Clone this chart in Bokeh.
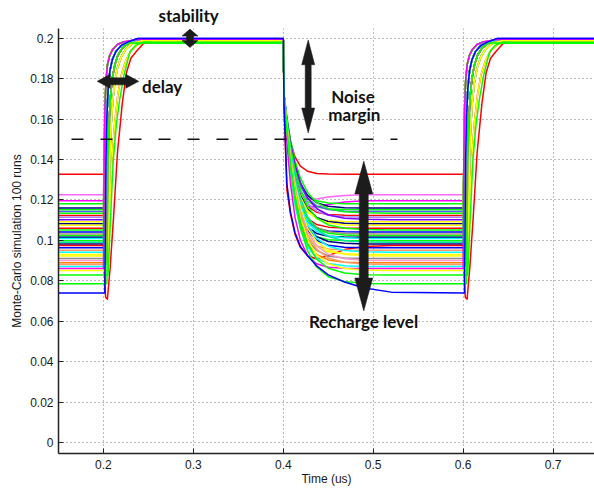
from bokeh.plotting import figure
from bokeh.models import Label, Arrow, FixedTicker, NumeralTickFormatter, Range1d, Title
from bokeh.embed import file_html
from bokeh.resources import INLINE

# ---------------- data ----------------
# recharge (low) level of each Monte-Carlo run, its high plateau, colour, rise class
levels = [0.1327, 0.1226, 0.1196, 0.1181, 0.1160, 0.1152, 0.1143, 0.1135, 0.1124, 0.1115,
          0.1103, 0.1093, 0.1083, 0.1075, 0.1061, 0.1052, 0.1042, 0.1032, 0.1024, 0.1016,
          0.1010, 0.0999, 0.0991, 0.0983, 0.0975, 0.0964, 0.0952, 0.0942, 0.0931, 0.0923,
          0.0911, 0.0901, 0.0890, 0.0882, 0.0872, 0.0862, 0.0852, 0.0829, 0.0786, 0.0741]
tops = [0.1985, 0.1988, 0.1982, 0.1980, 0.1990, 0.1978, 0.1992, 0.1977, 0.1986, 0.1989,
        0.1991, 0.1987, 0.1993, 0.1984, 0.1983, 0.1976, 0.1996, 0.1986, 0.1979, 0.1992,
        0.1988, 0.1981, 0.1985, 0.1994, 0.1982, 0.1998, 0.1987, 0.1989, 0.1984, 0.1986,
        0.1988, 0.1990, 0.1985, 0.1987, 0.1989, 0.1991, 0.1986, 0.1979, 0.1976, 0.1997]
run_colors = ["#ff0000", "#ff66ff", "#ff00ff", "#00ff00", "#000080", "#00ff00", "#5a5aff", "#00ff00", "#ff0000", "#b380ff",
              "#8000ff", "#ffff00", "#000080", "#ffff00", "#ff0000", "#00ff00", "#0000ff", "#99996b", "#00ff00", "#000080",
              "#00ffff", "#00ff00", "#00e699", "#000080", "#ff0000", "#0000ff", "#ff9966", "#00ffff", "#ffff00", "#ffff00",
              "#8c8c8c", "#ff99cc", "#ff8000", "#ff9966", "#00ffff", "#ff00ff", "#ffff00", "#00ff00", "#00ff00", "#0000ff"]
rise_class = ["B", "A", "B", "A", "B", "C", "B", "B", "A", "B",
              "C", "A", "B", "C2", "D", "A", "C", "B", "C2", "C",
              "B", "A", "B", "C2", "E", "B", "C", "C2", "D", "B",
              "C", "B", "C", "C2", "B", "A", "C2", "D2", "C", "B"]

# rising edges: time after the edge and value ("L" = run level, "T" = run plateau)
rise_dt_A = [0, 0.0008, 0.0016, 0.0028, 0.0045, 0.007, 0.0105, 0.0155, 0.023, 0.035]
rise_y_A = ["L", 0.14, 0.165, 0.179, 0.187, 0.1915, 0.1945, 0.1968, 0.1982, "T"]
rise_dt_B = [0, 0.0015, 0.0028, 0.0038, 0.0052, 0.0072, 0.010, 0.014, 0.0195, 0.027, 0.038]
rise_y_B = ["L", "L", 0.14, 0.161, 0.175, 0.184, 0.1895, 0.1935, 0.1962, 0.198, "T"]
rise_dt_C = [0, 0.0038, 0.005, 0.0062, 0.0078, 0.0098, 0.0125, 0.016, 0.021, 0.028, 0.039]
rise_y_C = ["L", "L", 0.14, 0.158, 0.171, 0.18, 0.1865, 0.1915, 0.195, 0.1975, "T"]
rise_dt_C2 = [0, 0.0056, 0.007, 0.0084, 0.0102, 0.0125, 0.0155, 0.0195, 0.025, 0.032, 0.042]
rise_y_C2 = ["L", "L", 0.14, 0.156, 0.168, 0.178, 0.185, 0.1905, 0.1945, 0.1972, "T"]
rise_dt_D = [0, 0.0045, 0.0095, 0.0125, 0.016, 0.02, 0.025, 0.031, 0.039, 0.05]
rise_y_D = ["L", "L", 0.14, 0.158, 0.172, 0.182, 0.189, 0.194, 0.197, "T"]
rise_dt_D2 = [0, 0.005, 0.0108, 0.0145, 0.0182, 0.023, 0.0293, 0.036, 0.045, 0.055]
rise_y_D2 = ["L", "L", 0.139, 0.158, 0.170, 0.182, 0.193, 0.1965, 0.198, "T"]
rise_dt_E = [0, 0.0012, 0.0024, 0.0044, 0.0075, 0.011, 0.0155, 0.021, 0.0256, 0.0305, 0.0367, 0.045, 0.055]
rise_y_E = ["L", 0.083, 0.072, 0.071, 0.087, 0.110, 0.143, 0.168, 0.183, 0.190, 0.1935, 0.1975, "T"]

# falling edge: time after the edge, and each run's values after the plateau
fall_dt = [0, 0.0008, 0.004, 0.008, 0.013, 0.019, 0.027, 0.037, 0.05, 0.068, 0.09, 0.12]
fall_rows = [
    [0.172, 0.1590, 0.1487, 0.1413, 0.1367, 0.1342, 0.1331, 0.1328, 0.1327, 0.1327, 0.1327],
    [0.172, 0.155, 0.141, 0.130, 0.1235, 0.1205, 0.1205, 0.1215, 0.1222, 0.1226, 0.1226],
    [0.172, 0.154, 0.140, 0.128, 0.1205, 0.117, 0.1165, 0.1178, 0.119, 0.1196, 0.1196],
    [0.172, 0.1572, 0.1443, 0.1340, 0.1268, 0.1220, 0.1196, 0.1185, 0.1182, 0.1181, 0.1181],
    [0.172, 0.1589, 0.1467, 0.1363, 0.1283, 0.1223, 0.1187, 0.1169, 0.1162, 0.1160, 0.1160],
    [0.172, 0.1564, 0.1429, 0.1320, 0.1244, 0.1193, 0.1167, 0.1156, 0.1153, 0.1152, 0.1152],
    [0.172, 0.1585, 0.1460, 0.1352, 0.1269, 0.1208, 0.1171, 0.1153, 0.1145, 0.1143, 0.1143],
    [0.172, 0.1608, 0.1497, 0.1394, 0.1309, 0.1237, 0.1187, 0.1157, 0.1142, 0.1137, 0.1135],
    [0.172, 0.1557, 0.1414, 0.1300, 0.1221, 0.1168, 0.1140, 0.1128, 0.1125, 0.1124, 0.1124],
    [0.172, 0.1578, 0.1447, 0.1334, 0.1247, 0.1183, 0.1145, 0.1125, 0.1117, 0.1115, 0.1115],
    [0.172, 0.1602, 0.1485, 0.1376, 0.1286, 0.1210, 0.1158, 0.1126, 0.1110, 0.1105, 0.1103],
    [0.172, 0.1548, 0.1398, 0.1278, 0.1195, 0.1139, 0.1110, 0.1098, 0.1094, 0.1093, 0.1093],
    [0.172, 0.1571, 0.1433, 0.1314, 0.1223, 0.1155, 0.1114, 0.1094, 0.1085, 0.1083, 0.1083],
    [0.172, 0.1569, 0.1429, 0.1308, 0.1216, 0.1148, 0.1107, 0.1086, 0.1077, 0.1075, 0.1075],
    [0.172, 0.1539, 0.1382, 0.1255, 0.1168, 0.1109, 0.1079, 0.1066, 0.1062, 0.1061, 0.1061],
    [0.172, 0.1592, 0.1465, 0.1348, 0.1250, 0.1168, 0.1111, 0.1077, 0.1060, 0.1054, 0.1052],
    [0.172, 0.1534, 0.1372, 0.1242, 0.1152, 0.1091, 0.1060, 0.1047, 0.1043, 0.1042, 0.1042],
    [0.172, 0.1559, 0.1410, 0.1281, 0.1183, 0.1110, 0.1066, 0.1043, 0.1035, 0.1032, 0.1032],
    [0.172, 0.1557, 0.1406, 0.1276, 0.1176, 0.1103, 0.1058, 0.1036, 0.1027, 0.1024, 0.1024],
    [0.172, 0.1527, 0.1359, 0.1224, 0.1130, 0.1067, 0.1035, 0.1021, 0.1017, 0.1016, 0.1016],
    [0.172, 0.1554, 0.1400, 0.1267, 0.1165, 0.1090, 0.1045, 0.1022, 0.1013, 0.1010, 0.1010],
    [0.172, 0.1522, 0.1350, 0.1212, 0.1116, 0.1052, 0.1018, 0.1004, 0.1000, 0.0999, 0.0999],
    [0.172, 0.1580, 0.1442, 0.1314, 0.1208, 0.1118, 0.1056, 0.1019, 0.0999, 0.0993, 0.0991],
    [0.172, 0.1548, 0.1388, 0.1250, 0.1144, 0.1066, 0.1019, 0.0995, 0.0986, 0.0983, 0.0983],
    [0.166, 0.125, 0.113, 0.103, 0.0965, 0.0925, 0.091, 0.0925, 0.0955, 0.097, 0.0975],
    [0.172, 0.1543, 0.1379, 0.1238, 0.1130, 0.1049, 0.1001, 0.0977, 0.0967, 0.0964, 0.0964],
    [0.172, 0.1510, 0.1326, 0.1179, 0.1076, 0.1008, 0.0973, 0.0958, 0.0953, 0.0952, 0.0952],
    [0.172, 0.1571, 0.1424, 0.1287, 0.1173, 0.1077, 0.1011, 0.0972, 0.0951, 0.0944, 0.0942],
    [0.172, 0.1535, 0.1364, 0.1217, 0.1104, 0.1020, 0.0970, 0.0944, 0.0934, 0.0931, 0.0931],
    [0.172, 0.1567, 0.1416, 0.1276, 0.1160, 0.1062, 0.0994, 0.0953, 0.0932, 0.0925, 0.0923],
    [0.172, 0.1531, 0.1355, 0.1204, 0.1088, 0.1002, 0.0951, 0.0924, 0.0914, 0.0911, 0.0911],
    [0.172, 0.1563, 0.1408, 0.1264, 0.1144, 0.1044, 0.0974, 0.0932, 0.0910, 0.0903, 0.0901],
    [0.172, 0.1526, 0.1346, 0.1190, 0.1072, 0.0984, 0.0931, 0.0904, 0.0893, 0.0890, 0.0890],
    [0.172, 0.1559, 0.1401, 0.1253, 0.1131, 0.1028, 0.0957, 0.0914, 0.0892, 0.0884, 0.0882],
    [0.172, 0.1522, 0.1338, 0.1179, 0.1058, 0.0968, 0.0914, 0.0886, 0.0875, 0.0872, 0.0872],
    [0.172, 0.1485, 0.1280, 0.1115, 0.1001, 0.0925, 0.0885, 0.0868, 0.0863, 0.0862, 0.0862],
    [0.172, 0.1553, 0.1389, 0.1237, 0.1110, 0.1003, 0.0929, 0.0885, 0.0862, 0.0854, 0.0852],
    [0.172, 0.1549, 0.1381, 0.1224, 0.1094, 0.0984, 0.0908, 0.0863, 0.0839, 0.0831, 0.0829],
    [0.172, 0.1541, 0.1364, 0.1200, 0.1063, 0.0949, 0.0869, 0.0821, 0.0797, 0.0788, 0.0786],
    [0.168, 0.128, 0.114, 0.104, 0.097, 0.0925, 0.0875, 0.0830, 0.0795, 0.0765, 0.0745],
]

edges_up = [0.2, 0.6]
edge_down = 0.4
t_start, t_end = 0.15, 0.75
noise_threshold = 0.15

x_ticks = [0.2, 0.3, 0.4, 0.5, 0.6, 0.7]
y_ticks = [0, 0.02, 0.04, 0.06, 0.08, 0.1, 0.12, 0.14, 0.16, 0.18, 0.2]

# ---------------- layout ----------------
W, H = 594, 489
B_LEFT, B_RIGHT, B_TOP, B_BOTTOM = 58, 0, 27, 36
X0, X1 = 0.15, 0.7461
Y0, Y1 = -0.0052, 0.2047
PX_X = (W - B_LEFT - B_RIGHT) / (X1 - X0)
PX_Y = (H - B_TOP - B_BOTTOM) / (Y1 - Y0)

p = figure(width=W, height=H, output_backend="svg", toolbar_location=None,
           x_range=Range1d(X0, X1), y_range=Range1d(Y0, Y1),
           min_border_left=B_LEFT, min_border_right=B_RIGHT,
           min_border_top=B_TOP, min_border_bottom=B_BOTTOM)
p.outline_line_color = None
p.background_fill_color = "white"

# "stability" caption sits above the axes box, so it is placed as the title
p.title = Title(text="stability", align="left", offset=100, standoff=5,
                text_font="Lato", text_font_style="bold", text_font_size="17px",
                text_color="#111111")

rise_profiles = {"A": (rise_dt_A, rise_y_A), "B": (rise_dt_B, rise_y_B),
                 "C": (rise_dt_C, rise_y_C), "C2": (rise_dt_C2, rise_y_C2),
                 "D": (rise_dt_D, rise_y_D), "D2": (rise_dt_D2, rise_y_D2),
                 "E": (rise_dt_E, rise_y_E)}


def resolve(v, L, T):
    if v == "L":
        return L
    if v == "T":
        return T
    return v


xs_all, ys_all = [], []
for L, T, cls, frow in zip(levels, tops, rise_class, fall_rows):
    dts, yv = rise_profiles[cls]
    ry = [resolve(v, L, T) for v in yv]
    xs = [t_start]
    ys = [L]
    xs += [edges_up[0] + d for d in dts]
    ys += ry
    xs += [edge_down + d for d in fall_dt]
    ys += [T] + frow
    xs += [edges_up[1] + d for d in dts]
    ys += ry
    xs.append(t_end)
    ys.append(T)
    xs_all.append(xs)
    ys_all.append(ys)

p.multi_line(xs_all, ys_all, line_color=run_colors, line_width=1.5, line_join="round")

# ---------------- axes / grid ----------------
for ax in (p.xaxis[0], p.yaxis[0]):
    ax.axis_line_color = "#222222"
    ax.axis_line_width = 1.5
    ax.major_tick_line_color = "#222222"
    ax.major_tick_in = 5
    ax.major_tick_out = 0
    ax.minor_tick_line_color = None
    ax.major_label_text_font = "Liberation Sans"
    ax.major_label_text_font_size = "12px"
    ax.major_label_text_color = "#1a1a1a"
    ax.axis_label_text_font = "Liberation Sans"
    ax.axis_label_text_font_size = "12px"
    ax.axis_label_text_font_style = "normal"
    ax.axis_label_text_color = "#1a1a1a"
    ax.formatter = NumeralTickFormatter(format="0.[00]")

p.xaxis.ticker = FixedTicker(ticks=x_ticks)
p.yaxis.ticker = FixedTicker(ticks=y_ticks)
p.xaxis.axis_label = "Time (us)"
p.yaxis.axis_label = "Monte-Carlo simulation 100 runs"
p.xaxis.major_label_standoff = 6
p.xaxis.axis_label_standoff = 0
p.yaxis.major_label_standoff = 5
p.yaxis.axis_label_standoff = 3

for g in (p.xgrid[0], p.ygrid[0]):
    g.grid_line_color = "#555555"
    g.grid_line_dash = "1 3"
    g.grid_line_width = 1
    g.grid_line_alpha = 0.8
p.xgrid.ticker = FixedTicker(ticks=x_ticks)
p.ygrid.ticker = FixedTicker(ticks=y_ticks)

# ---------------- annotations ----------------
ARROW_COLOR = "#1c1c1c"


def v_double_arrow(cx, y_top, y_bot, shaft_px, head_w_px, head_len_px):
    sw = shaft_px / PX_X / 2
    hw = head_w_px / PX_X / 2
    hl = head_len_px / PX_Y
    xs = [cx, cx + hw, cx + sw, cx + sw, cx + hw, cx, cx - hw, cx - sw, cx - sw, cx - hw]
    ys = [y_top, y_top - hl, y_top - hl, y_bot + hl, y_bot + hl, y_bot,
          y_bot + hl, y_bot + hl, y_top - hl, y_top - hl]
    p.patch(xs, ys, fill_color=ARROW_COLOR, line_color=ARROW_COLOR, line_width=0.5)


def h_double_arrow(cy, x_left, x_right, shaft_px, head_w_px, head_len_px):
    sw = shaft_px / PX_Y / 2
    hw = head_w_px / PX_Y / 2
    hl = head_len_px / PX_X
    xs = [x_left, x_left + hl, x_left + hl, x_right - hl, x_right - hl, x_right,
          x_right - hl, x_right - hl, x_left + hl, x_left + hl]
    ys = [cy, cy + hw, cy + sw, cy + sw, cy + hw, cy, cy - hw, cy - sw, cy - sw, cy - hw]
    p.patch(xs, ys, fill_color=ARROW_COLOR, line_color=ARROW_COLOR, line_width=0.5)


# threshold (dashed) line
p.add_layout(Arrow(start=None, end=None, x_start=0.1322, y_start=noise_threshold,
                   x_end=0.5270, y_end=noise_threshold, line_color="#111111",
                   line_width=1.3, line_dash="12 17"))

v_double_arrow(0.2962, 0.2044, 0.1953, 7, 16, 7)        # stability
h_double_arrow(0.1786, 0.1930, 0.2393, 7, 14, 13)       # delay
v_double_arrow(0.4277, 0.1991, 0.1531, 6, 13, 25)       # noise margin
v_double_arrow(0.4895, 0.1392, 0.0652, 9, 18, 33)       # recharge level


def add_label(x, y, text, align="center"):
    p.add_layout(Label(x=x, y=y, text=text, text_font="Lato", text_font_style="bold",
                       text_font_size="17px", text_color="#111111", text_align=align,
                       text_baseline="alphabetic"))


add_label(0.2429, 0.1761, "delay", align="left")
add_label(0.4775, 0.1712, "Noise")
add_label(0.4790, 0.1622, "margin")
add_label(0.4892, 0.0598, "Recharge level")

open("out.html", "w").write(file_html(p, INLINE))
